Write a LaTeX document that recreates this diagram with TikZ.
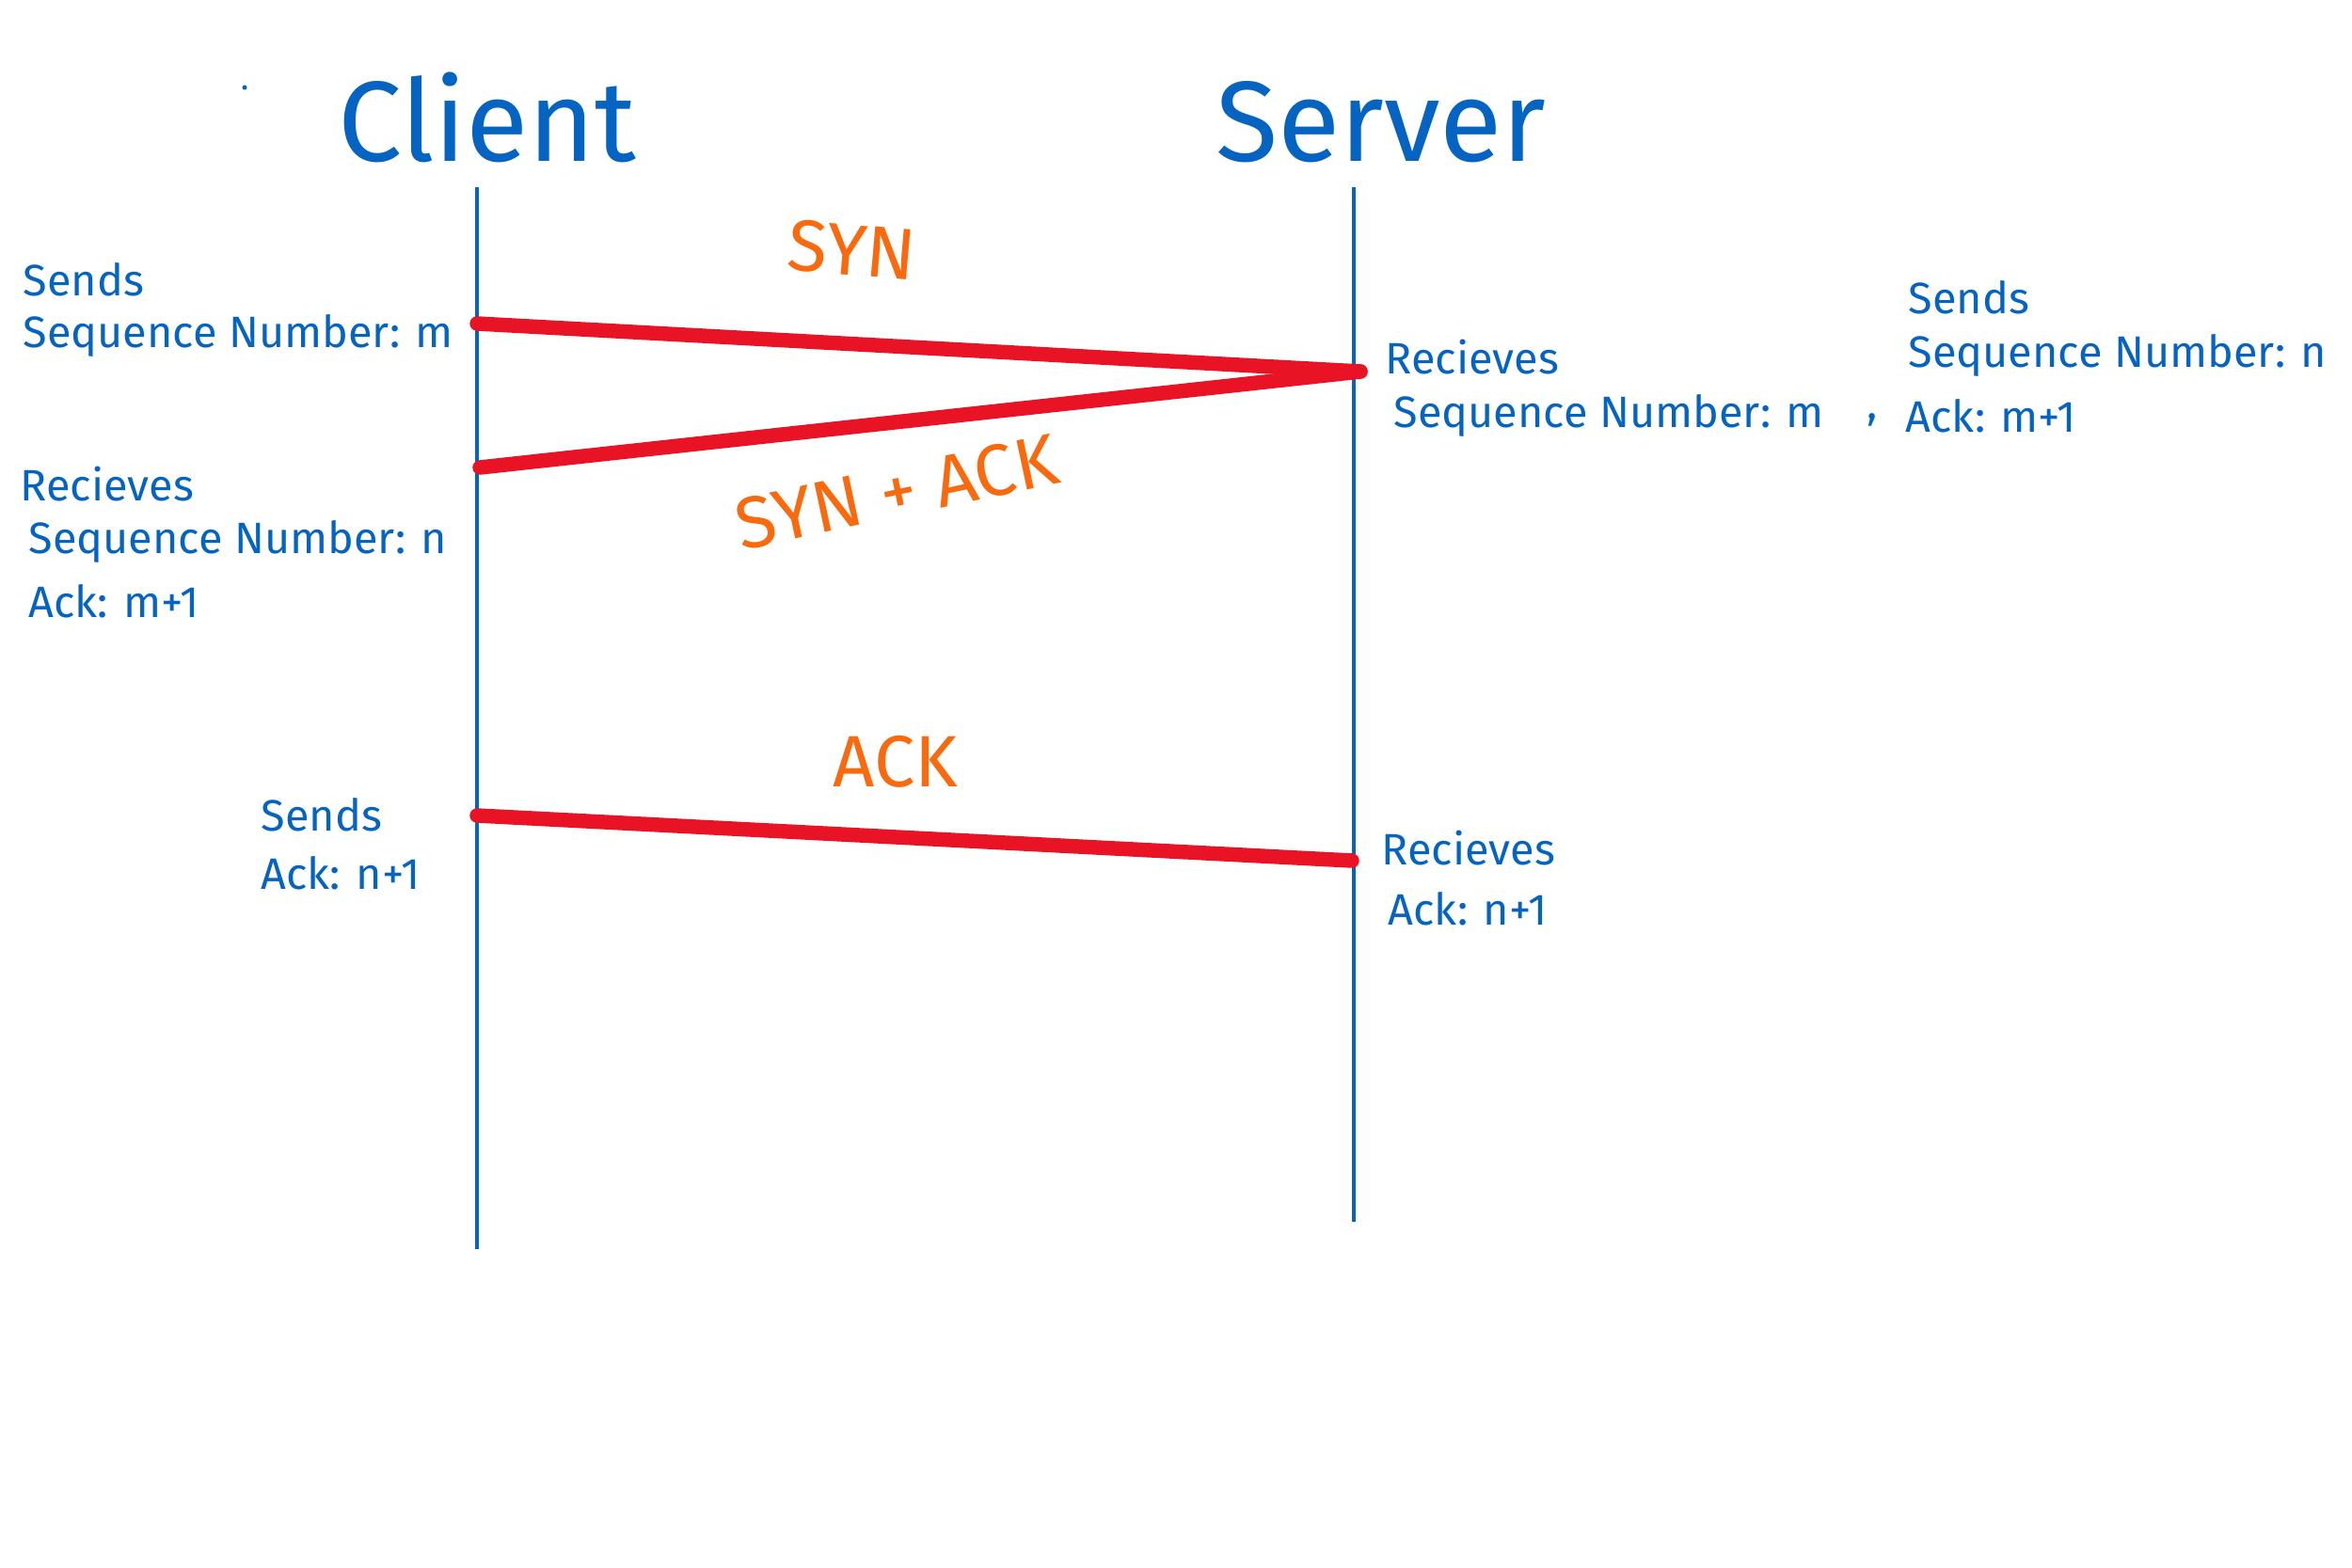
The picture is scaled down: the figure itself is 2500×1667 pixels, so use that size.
\documentclass[tikz,border=0pt]{standalone}
\usepackage{fontspec}
\setmainfont{Fira Sans}
\definecolor{hblue}{HTML}{0563C1}
\definecolor{horange}{HTML}{F96A0E}
\definecolor{hred}{HTML}{E81425}
\begin{document}
\begin{tikzpicture}[x=0.01cm,y=-0.01cm,
  title/.style={text=hblue,font=\fontsize{34.5}{40}\selectfont,inner sep=0,anchor=base},
  note/.style={text=hblue,font=\fontsize{13.3}{16}\selectfont,inner sep=0,anchor=west},
  msg/.style={text=horange,font=\fontsize{22}{26}\selectfont,inner sep=0},
  life/.style={draw=hblue,line width=1.4pt},
  packet/.style={draw=hred,line width=4.4pt,line cap=round}]
\useasboundingbox (0,0) rectangle (2500,1667);
% titles
\node[title] (client) at (518,172) {Client};
\node[title] (server) at (1468,172) {Server};
\fill[hblue] (260,93) circle (2.5) coordinate (dot);
% lifelines
\coordinate (ctop) at (507,199);
\coordinate (cbot) at (507,1328);
\coordinate (stop) at (1439,199);
\coordinate (sbot) at (1439,1299);
\draw[life] (ctop) -- (cbot);
\draw[life] (stop) -- (sbot);
% message endpoints
\coordinate (c1) at (507,344);
\coordinate (s1) at (1446,395);
\coordinate (c2) at (510,497);
\coordinate (c3) at (507,867);
\coordinate (s3) at (1437,915);
\draw[packet] (c1) -- (s1);
\draw[packet] (s1) -- (c2);
\draw[packet] (c3) -- (s3);
% message labels
\node[msg,rotate=-5] (syn) at (906,266) {SYN};
\node[msg,rotate=12] (synack) at (953,523) {SYN + ACK};
\node[msg] (ack) at (952,810) {ACK};
% client notes
\node[note] (cs1) at (24,297) {Sends};
\node[note] (cs2) at (24,357) {Sequence Number: m};
\node[note] (cr1) at (21,515) {Recieves};
\node[note] (cr2) at (30,576) {Sequence Number: n};
\node[note] (cr3) at (30,639) {Ack: m+1};
\node[note] (ca1) at (277,866) {Sends};
\node[note] (ca2) at (277,928) {Ack: n+1};
% server notes
\node[note] (sr1) at (1472,380) {Recieves};
\node[note] (sr2) at (1481,442) {Sequence Number: m};
\node[note] (comma) at (1984,446) {,};
\node[note] (ss1) at (2028,316) {Sends};
\node[note] (ss2) at (2028,378) {Sequence Number: n};
\node[note] (ss3) at (2025,442) {Ack: m+1};
\node[note] (sa1) at (1468,902) {Recieves};
\node[note] (sa2) at (1475,966) {Ack: n+1};
\end{tikzpicture}
\end{document}
